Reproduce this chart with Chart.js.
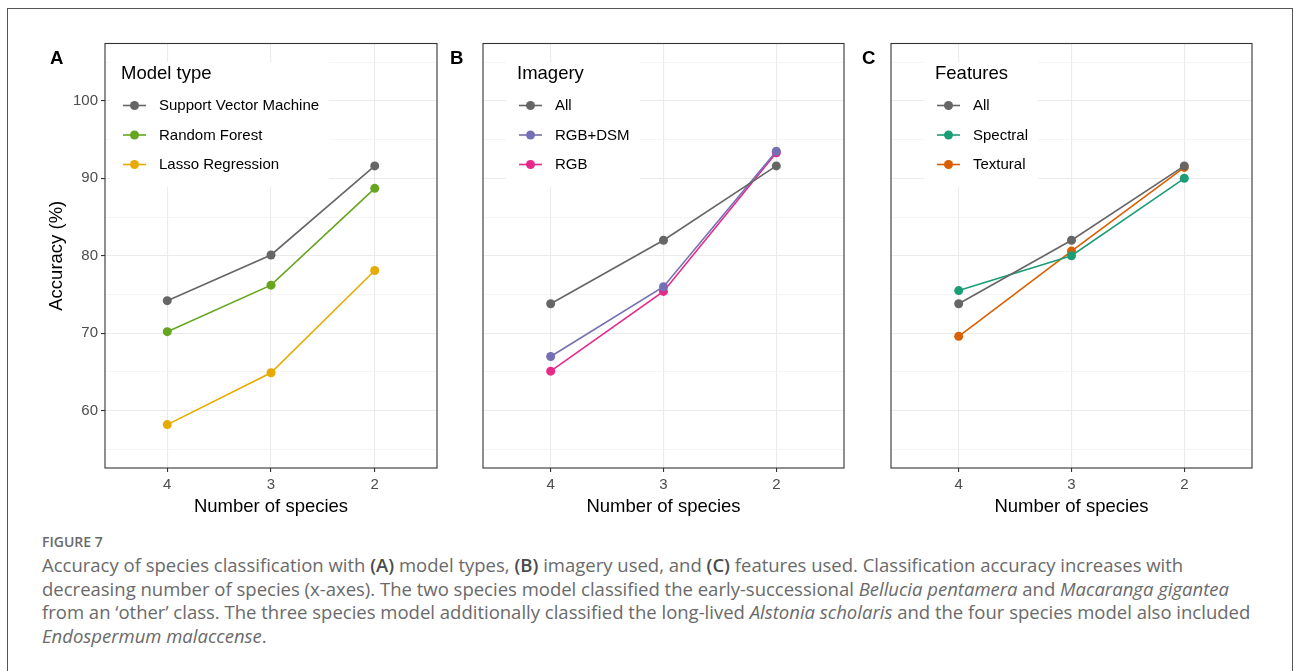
<!DOCTYPE html>
<html>
<head>
<meta charset="utf-8">
<title>Figure 7 - classification accuracy</title>
<script src="https://cdn.jsdelivr.net/npm/chart.js@4.4.1/dist/chart.umd.min.js"></script>
<style>
  html, body { margin: 0; padding: 0; background: #fff; }
  body { width: 1293px; height: 671px; overflow: hidden; position: relative; font-family: "Liberation Sans", Arial, sans-serif; }
  .frame { position: absolute; left: 7px; top: 8px; width: 1284px; height: 700px; border: 1px solid #555; border-bottom: none; }
  .panel { position: absolute; top: 0; height: 530px; }
  .tag { position: absolute; font: bold 18.6px/1 "Liberation Sans", Arial, sans-serif; color: #000; }
  .fig-label { position: absolute; left: 42px; top: 535px; font: 600 14px/1 "Open Sans", sans-serif; color: #6a6a6a; }
  .caption { position: absolute; left: 42px; top: 553px; font: 18.5px/23.7px "Open Sans", sans-serif; color: #6a6a6a; white-space: nowrap; }
  .caption b { font-weight: 600; color: #4a4a4a; }
</style>
</head>
<body>
<div class="frame"></div>

<div class="panel" style="left:0;width:450px"><canvas id="panel-a"></canvas></div>
<div class="panel" style="left:450px;width:410px"><canvas id="panel-b"></canvas></div>
<div class="panel" style="left:860px;width:433px"><canvas id="panel-c"></canvas></div>

<div class="tag" style="left:50px;top:49px">A</div>
<div class="tag" style="left:450px;top:49px">B</div>
<div class="tag" style="left:862px;top:49px">C</div>

<div class="fig-label">FIGURE 7</div>
<div class="caption">Accuracy of species classification with <b>(A)</b> model types, <b>(B)</b> imagery used, and <b>(C)</b> features used. Classification accuracy increases with<br>decreasing number of species (x-axes). The two species model classified the early-successional <i>Bellucia pentamera</i> and <i>Macaranga gigantea</i><br>from an ‘other’ class. The three species model additionally classified the long-lived <i>Alstonia scholaris</i> and the four species model also included<br><i>Endospermum malaccense</i>.</div>

<script>
// x positions (number of species), shown in decreasing order
const speciesCounts = [4, 3, 2];
const yMajorTicks = [60, 70, 80, 90, 100];
const yMinorTicks = [55, 65, 75, 85, 95, 105];

// (A) model type
const svmAcc = [74.2, 80.1, 91.6];
const rfAcc = [70.2, 76.2, 88.7];
const lassoAcc = [58.2, 64.9, 78.1];

// (B) imagery
const imageryAll = [73.8, 82.0, 91.6];
const imageryRgbDsm = [67.0, 76.0, 93.5];
const imageryRgb = [65.1, 75.4, 93.3];

// (C) features
const featuresAll = [73.8, 82.0, 91.6];
const featuresSpectral = [75.5, 80.0, 90.0];
const featuresTextural = [69.6, 80.6, 91.4];

const FONT = '"Liberation Sans", Arial, sans-serif';
Chart.defaults.font.family = FONT;

// panel border + ggplot style legend inside the panel
const panelDecor = {
  id: 'panelDecor',
  afterDraw(chart, args, opts) {
    const { ctx, chartArea: a } = chart;
    ctx.save();
    ctx.strokeStyle = '#333333';
    ctx.lineWidth = 1.1;
    ctx.strokeRect(a.left, a.top, a.right - a.left, a.bottom - a.top);

    const sets = chart.data.datasets;
    const keyX = opts.keyX;
    ctx.font = '15px ' + FONT;
    const textW = Math.max(...sets.map(d => ctx.measureText(d.label).width));
    const bgX = keyX - 13;
    ctx.fillStyle = '#ffffff';
    ctx.fillRect(bgX, 62, keyX + 36 + textW + 10 - bgX, 125);

    ctx.textBaseline = 'middle';
    ctx.fillStyle = '#000000';
    ctx.font = '18.5px ' + FONT;
    ctx.fillText(opts.title, keyX - 2, 74);

    ctx.font = '15px ' + FONT;
    sets.forEach((d, i) => {
      const y = 105.5 + i * 29.5;
      ctx.strokeStyle = d.borderColor;
      ctx.lineWidth = 1.6;
      ctx.beginPath();
      ctx.moveTo(keyX, y);
      ctx.lineTo(keyX + 23, y);
      ctx.stroke();
      ctx.fillStyle = d.borderColor;
      ctx.beginPath();
      ctx.arc(keyX + 11.5, y, 4.5, 0, Math.PI * 2);
      ctx.fill();
      ctx.fillStyle = '#000000';
      ctx.fillText(d.label, keyX + 36, y + 0.5);
    });
    ctx.restore();
  }
};

function isMajor(v) { return yMajorTicks.includes(v); }

function makePanel(id, series, cfg) {
  return new Chart(document.getElementById(id), {
    type: 'line',
    data: {
      datasets: series.map(s => ({
        label: s.label,
        data: speciesCounts.map((n, i) => ({ x: n, y: s.values[i] })),
        borderColor: s.color,
        backgroundColor: s.color,
        borderWidth: 1.6,
        pointRadius: 4.5,
        pointHoverRadius: 4.5,
        pointBorderWidth: 0,
        tension: 0
      }))
    },
    options: {
      responsive: true,
      maintainAspectRatio: false,
      animation: false,
      events: [],
      layout: { padding: { left: cfg.padLeft, right: cfg.padRight, top: 43.5, bottom: 0 } },
      plugins: {
        legend: { display: false },
        tooltip: { enabled: false },
        panelDecor: { title: cfg.legendTitle, keyX: cfg.keyX }
      },
      scales: {
        x: {
          type: 'linear',
          reverse: true,
          min: 1.4,
          max: 4.6,
          afterBuildTicks: s => { s.ticks = speciesCounts.map(v => ({ value: v })); },
          afterFit: s => { s.height = 62; },
          border: { display: false },
          grid: { color: '#EBEBEB', lineWidth: 1.1, tickLength: 4, tickColor: '#333333', tickWidth: 1.1 },
          ticks: { color: '#4D4D4D', font: { size: 15 }, padding: 4, maxRotation: 0, callback: v => String(v) },
          title: { display: true, text: 'Number of species', color: '#000', font: { size: 18.5 }, padding: { top: 0, bottom: 12 } }
        },
        y: {
          min: 52.6,
          max: 107.4,
          afterBuildTicks: s => {
            s.ticks = yMinorTicks.concat(yMajorTicks).sort((p, q) => p - q).map(v => ({ value: v }));
          },
          afterFit: s => { s.width = cfg.yWidth; },
          border: { display: false },
          grid: {
            color: c => isMajor(c.tick.value) ? '#EBEBEB' : '#F3F3F3',
            lineWidth: c => isMajor(c.tick.value) ? 1.1 : 0.8,
            drawTicks: cfg.showY,
            tickLength: 4,
            tickWidth: 1.1,
            tickColor: c => isMajor(c.tick.value) ? '#333333' : 'rgba(0,0,0,0)'
          },
          ticks: {
            display: cfg.showY,
            color: '#4D4D4D',
            font: { size: 15 },
            padding: 3,
            callback: v => isMajor(v) ? String(v) : ''
          },
          title: { display: cfg.showY, text: 'Accuracy (%)', color: '#000', font: { size: 18.5 }, padding: { top: 6, bottom: 0 } }
        }
      }
    },
    plugins: [panelDecor]
  });
}

makePanel('panel-a', [
  { label: 'Support Vector Machine', values: svmAcc, color: '#666666' },
  { label: 'Random Forest', values: rfAcc, color: '#66A61E' },
  { label: 'Lasso Regression', values: lassoAcc, color: '#E6AB02' }
], { padLeft: 40, padRight: 13, yWidth: 65, showY: true, legendTitle: 'Model type', keyX: 123 });

makePanel('panel-b', [
  { label: 'All', values: imageryAll, color: '#666666' },
  { label: 'RGB+DSM', values: imageryRgbDsm, color: '#7570B3' },
  { label: 'RGB', values: imageryRgb, color: '#E7298A' }
], { padLeft: 0, padRight: 16, yWidth: 33, showY: false, legendTitle: 'Imagery', keyX: 69 });

makePanel('panel-c', [
  { label: 'All', values: featuresAll, color: '#666666' },
  { label: 'Spectral', values: featuresSpectral, color: '#1B9E77' },
  { label: 'Textural', values: featuresTextural, color: '#D95F02' }
], { padLeft: 0, padRight: 41, yWidth: 31, showY: false, legendTitle: 'Features', keyX: 77 });
</script>
</body>
</html>
